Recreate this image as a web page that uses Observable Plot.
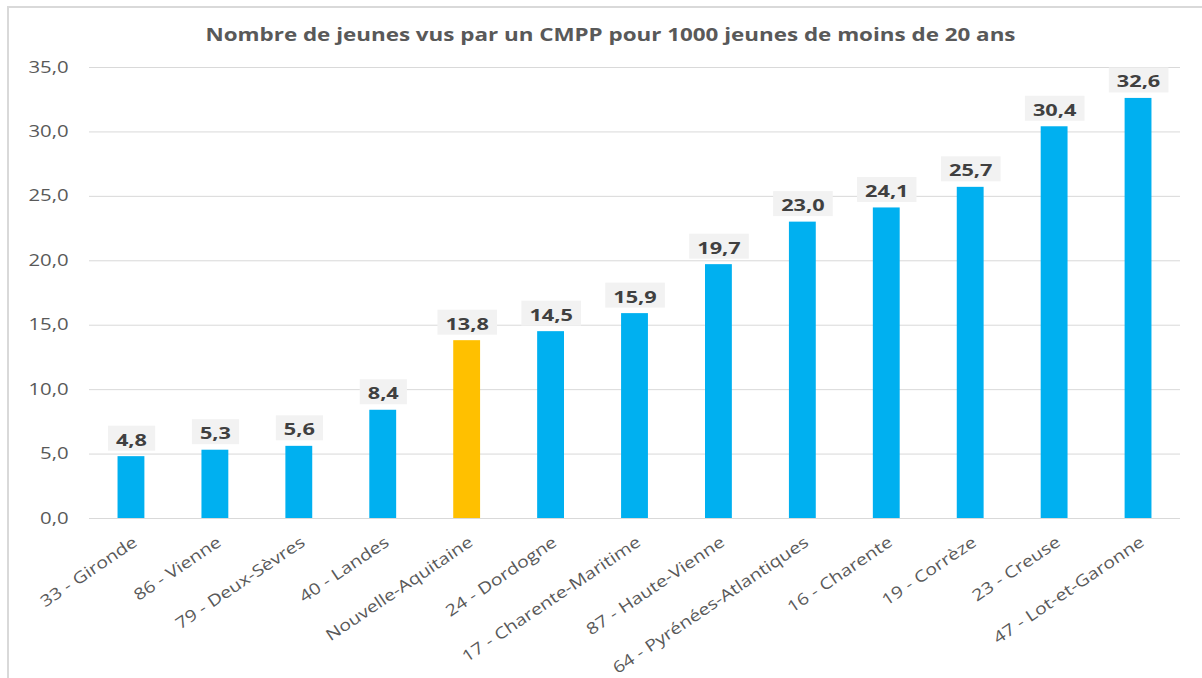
<!DOCTYPE html>
<html><head><meta charset="utf-8">
<script src="https://cdn.jsdelivr.net/npm/d3@7"></script>
<script src="https://cdn.jsdelivr.net/npm/@observablehq/plot@0.6"></script>
<style>
html,body{margin:0;padding:0;background:#fff;overflow:hidden;width:1202px;height:678px}
#frame{position:absolute;left:7px;top:6px;width:1300px;height:800px;border:2px solid #d9d9d9;box-sizing:border-box;}
#chart{position:absolute;left:0;top:0}
</style></head><body>
<div id="frame"></div><div id="chart"></div>
<script>
const titleText = "Nombre de jeunes vus par un CMPP pour 1000 jeunes de moins de 20 ans";
const departements = ["33 - Gironde", "86 - Vienne", "79 - Deux-Sèvres", "40 - Landes", "Nouvelle-Aquitaine", "24 - Dordogne", "17 - Charente-Maritime", "87 - Haute-Vienne", "64 - Pyrénées-Atlantiques", "16 - Charente", "19 - Corrèze", "23 - Creuse", "47 - Lot-et-Garonne"];
const valeurs = [4.8, 5.3, 5.6, 8.4, 13.8, 14.5, 15.9, 19.7, 23.0, 24.1, 25.7, 30.4, 32.6];
const highlight = "Nouvelle-Aquitaine";
const yTicks = [0, 5, 10, 15, 20, 25, 30, 35];
const blue = "#00B0F0", yellow = "#FFC000";

const data = departements.map((name, i) => ({name, value: valeurs[i]}));
const fmt = v => v.toFixed(1).replace(".", ",");
const font = "'Open Sans', sans-serif";

const plot = Plot.plot({
  width: 1202, height: 678,
  marginLeft: 89, marginRight: 22, marginTop: 67, marginBottom: 160,
  style: {fontFamily: font, background: "transparent"},
  x: {domain: departements, paddingInner: 0.68, paddingOuter: 0.34, round: false, label: null},
  y: {domain: [0, 35], label: null},
  marks: [
    Plot.gridY(yTicks, {stroke: "#d9d9d9", strokeOpacity: 1}),
    Plot.barY(data, {x: "name", y: "value", fill: d => d.name === highlight ? yellow : blue}),
    Plot.axisY(yTicks, {tickSize: 0, tickPadding: 21, tickFormat: fmt, fontSize: 16, fill: "#595959"}),
    Plot.axisX({tickSize: 0, tickRotate: -34, tickPadding: 22, dx: 4, fontSize: 16, fill: "#595959"}),
    Plot.text(data, {x: "name", y: "value", text: d => fmt(d.value), lineAnchor: "bottom", dy: -11, fontSize: 15.5, fontWeight: "bold", fill: "#404040"}),
    Plot.text([titleText], {frameAnchor: "top", text: d => d, lineAnchor: "bottom", dy: -27, dx: -24.5, fontSize: 18, fontWeight: "bold", fill: "#595959"})
  ]
});
document.getElementById("chart").appendChild(plot);

const valueSet = new Set(valeurs.map(fmt));
const tickSet = new Set(yTicks.map(fmt));
const deptSet = new Set(departements);
const texts = Array.from(plot.querySelectorAll("text"));
const byKind = {y: [], x: [], v: [], t: []};
texts.forEach(t => {
  const s = t.textContent;
  if (s === titleText) byKind.t.push(t);
  else if (deptSet.has(s)) byKind.x.push(t);
  else if (tickSet.has(s)) byKind.y.push(t);
  else if (valueSet.has(s)) byKind.v.push(t);
});
function stretch(list, factor) {
  list.forEach(t => {
    const w = t.getComputedTextLength();
    t.setAttribute("textLength", w * factor);
    t.setAttribute("lengthAdjust", "spacingAndGlyphs");
  });
}
stretch(byKind.y, 1.27);
stretch(byKind.x, 1.22);
stretch(byKind.v, 1.4);
byKind.t.forEach(t => {
  t.setAttribute("textLength", 810);
  t.setAttribute("lengthAdjust", "spacingAndGlyphs");
});
byKind.v.forEach(t => {
  const b = t.getBBox();
  const cy = b.y + b.height / 2;
  const r = document.createElementNS("http://www.w3.org/2000/svg", "rect");
  r.setAttribute("x", b.x - 8);
  r.setAttribute("width", b.width + 16);
  r.setAttribute("y", cy - 14);
  r.setAttribute("height", 25);
  r.setAttribute("fill", "#F2F2F2");
  if (t.getAttribute("transform")) r.setAttribute("transform", t.getAttribute("transform"));
  t.parentNode.insertBefore(r, t);
});
</script>
</body></html>
